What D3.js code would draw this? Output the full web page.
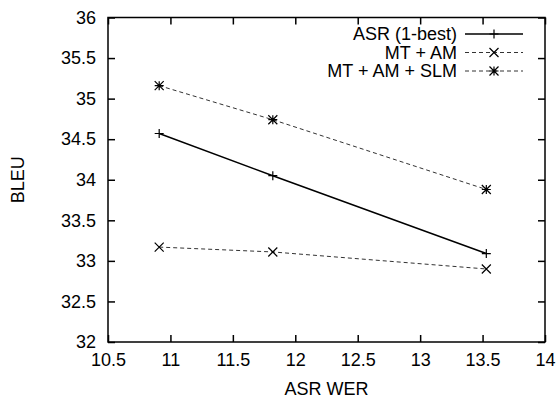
<!DOCTYPE html>
<html>
<head>
<meta charset="utf-8">
<script src="https://cdn.jsdelivr.net/npm/d3@7"></script>
<style>
  body { margin: 0; background: #fff; }
  text { font-family: "Liberation Sans", Arial, Helvetica, sans-serif; }
</style>
</head>
<body>
<div id="d1"></div>
<script>
// data
const wer = [10.91, 11.82, 13.53];
const asrBest = [34.57, 34.05, 33.09];
const mtAm = [33.17, 33.11, 32.90];
const mtAmSlm = [35.16, 34.74, 33.88];
const seriesNames = ["ASR (1-best)", "MT + AM", "MT + AM + SLM"];
const xTicks = [10.5, 11, 11.5, 12, 12.5, 13, 13.5, 14];
const yTicks = [32, 32.5, 33, 33.5, 34, 34.5, 35, 35.5, 36];

const width = 559, height = 398;
const margin = { top: 17.5, right: 14, bottom: 56, left: 108 };

const x = d3.scaleLinear()
    .domain([10.5, 14])
    .range([margin.left, width - margin.right]);
const y = d3.scaleLinear()
    .domain([32, 36])
    .range([height - margin.bottom, margin.top]);

const svg = d3.select("#d1").append("svg")
    .attr("width", width)
    .attr("height", height)
    .attr("viewBox", [0, 0, width, height]);

const series = [
    { name: seriesNames[0], values: asrBest, marker: "plus", dash: null, color: "#000", sw: 1.5 },
    { name: seriesNames[1], values: mtAm, marker: "cross", dash: "4,3", color: "#333", sw: 1 },
    { name: seriesNames[2], values: mtAmSlm, marker: "star", dash: "4,3", color: "#333", sw: 1 }
];

function markerPath(type, s) {
    const p = `M${-s},0H${s}M0,${-s}V${s}`;
    const c = `M${-s},${-s}L${s},${s}M${-s},${s}L${s},${-s}`;
    if (type === "plus") return p;
    if (type === "cross") return c;
    return p + c;
}

const tickLen = 7;
const fs = 18;

// y ticks (left + mirrored right)
const yAxis = g => g
    .attr("transform", `translate(${margin.left},0)`)
    .call(d3.axisLeft(y).tickValues(yTicks).tickFormat(d3.format("")).tickSize(0).tickPadding(12))
    .call(g => g.select(".domain").remove())
    .call(g => g.selectAll(".tick text").attr("font-size", fs).attr("fill", "#000")
        .attr("font-family", "Liberation Sans, Arial, sans-serif"))
    .call(g => g.selectAll(".tick").append("line").attr("x2", tickLen).attr("stroke", "#000").attr("stroke-width", 1.5))
    .call(g => g.selectAll(".tick").append("line")
        .attr("x1", width - margin.right - margin.left)
        .attr("x2", width - margin.right - margin.left - tickLen)
        .attr("stroke", "#000").attr("stroke-width", 1.5));

const xAxis = g => g
    .attr("transform", `translate(0,${height - margin.bottom})`)
    .call(d3.axisBottom(x).tickValues(xTicks).tickFormat(d3.format("")).tickSize(0).tickPadding(11))
    .call(g => g.select(".domain").remove())
    .call(g => g.selectAll(".tick text").attr("font-size", fs).attr("fill", "#000")
        .attr("font-family", "Liberation Sans, Arial, sans-serif"))
    .call(g => g.selectAll(".tick").append("line").attr("y2", -tickLen).attr("stroke", "#000").attr("stroke-width", 1.5))
    .call(g => g.selectAll(".tick").append("line")
        .attr("y1", -(height - margin.bottom - margin.top))
        .attr("y2", -(height - margin.bottom - margin.top) + tickLen)
        .attr("stroke", "#000").attr("stroke-width", 1.5));

svg.append("g").call(xAxis);
svg.append("g").call(yAxis);

// frame
svg.append("rect")
    .attr("x", margin.left)
    .attr("y", margin.top)
    .attr("width", width - margin.right - margin.left)
    .attr("height", height - margin.bottom - margin.top)
    .attr("fill", "none")
    .attr("stroke", "#000")
    .attr("stroke-width", 1.5);

// axis titles
svg.append("text")
    .attr("x", (margin.left + width - margin.right) / 2)
    .attr("y", 395)
    .attr("text-anchor", "middle")
    .attr("font-size", fs)
    .text("ASR WER");

svg.append("text")
    .attr("transform", `translate(24,${(margin.top + height - margin.bottom) / 2}) rotate(-90)`)
    .attr("text-anchor", "middle")
    .attr("font-size", fs)
    .text("BLEU");

const line = d3.line()
    .x((d, i) => x(wer[i]))
    .y(d => y(d));

// lines + markers
series.forEach(s => {
    svg.append("path")
        .datum(s.values)
        .attr("fill", "none")
        .attr("stroke", s.color)
        .attr("stroke-width", s.sw)
        .attr("stroke-dasharray", s.dash)
        .attr("d", line);
    svg.append("g")
        .selectAll("path")
        .data(s.values)
        .join("path")
        .attr("transform", (d, i) => `translate(${x(wer[i])},${y(d)})`)
        .attr("d", markerPath(s.marker, 4.5))
        .attr("fill", "none")
        .attr("stroke", "#000")
        .attr("stroke-width", 1.2);
});

// legend
const legend = svg.append("g")
    .selectAll("g")
    .data(series)
    .join("g")
    .attr("transform", (d, i) => `translate(0,${34 + i * 18.5})`);

legend.append("text")
    .attr("x", 457)
    .attr("y", 0)
    .attr("dy", "0.35em")
    .attr("text-anchor", "end")
    .attr("font-size", fs)
    .text(d => d.name);

legend.append("line")
    .attr("x1", 465)
    .attr("x2", 523)
    .attr("stroke", d => d.color)
    .attr("stroke-width", d => d.sw)
    .attr("stroke-dasharray", d => d.dash);

legend.append("path")
    .attr("transform", "translate(494,0)")
    .attr("d", d => markerPath(d.marker, 4.5))
    .attr("fill", "none")
    .attr("stroke", "#000")
    .attr("stroke-width", 1.2);
</script>
</body>
</html>
